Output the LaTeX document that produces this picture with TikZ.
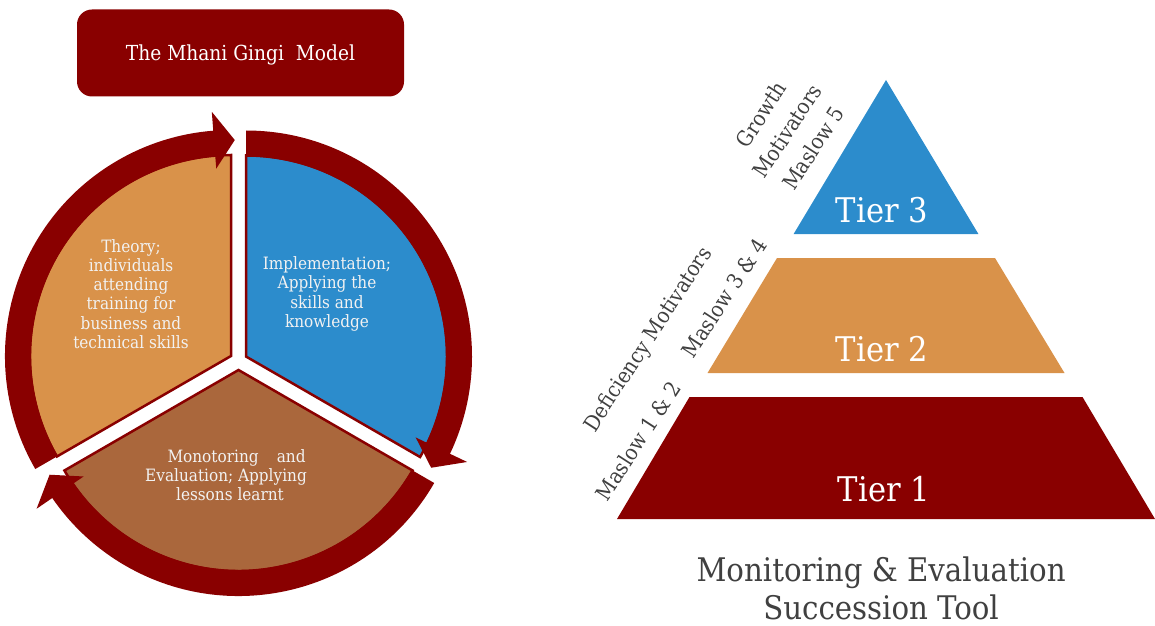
\documentclass[tikz,border=0pt]{standalone}
\usepackage{fontspec}
\setmainfont{DejaVu Serif Condensed}
\usepackage{tikz}
\usetikzlibrary{positioning, calc}
\definecolor{mgred}{RGB}{137,0,0}
\definecolor{mgorange}{RGB}{217,146,74}
\definecolor{mgblue}{RGB}{44,140,204}
\definecolor{mgbrown}{RGB}{170,103,60}
\definecolor{mggrey}{RGB}{64,64,64}
\tikzset{
	segtext/.style={text=white!95!black, align=center, font=\fontsize{17}{19.3}\selectfont},
	tiertext/.style={text=white, font=\fontsize{34}{40}\selectfont},
	sidetext/.style={text=mggrey, rotate=57, align=center, inner sep=0pt, font=\fontsize{21.5}{31}\selectfont},
}

\begin{document}
\begin{tikzpicture}[x=1pt, y=1pt]
		\useasboundingbox (0,0) rectangle (1155,625);
		\node[fill=mgred, rounded corners=15pt, minimum width=327pt, minimum height=87pt, text depth=0pt, text=white, font=\fontsize{20.7}{24}\selectfont] (title) at (240.5,572) {The~Mhani~Gingi~~Model};
		% three segments: apex x / apex y / start angle / colour
		\foreach \ax/\ay/\s/\col in {231/269/210/mgorange, 246/268.5/90/mgblue, 238.5/255/330/mgbrown}{
			\pgfmathsetmacro{\e}{\s-120}
			\pgfmathsetmacro{\b}{\e+4.5}
			\pgfmathsetmacro{\t}{\e-1}
			\filldraw[fill=\col, draw=mgred, line width=2.5pt] (\ax,\ay) -- ($(\ax,\ay)+(\s:201)$) arc[start angle=\s, end angle=\e, radius=201] -- cycle;
			\fill[mgred] ($(\ax,\ay)+(\s:226)$) arc[start angle=\s, end angle=\b, radius=226]
				-- ($(\ax,\ay)+(\b:245)$) -- ($(\ax,\ay)+(\t:216)$) -- ($(\ax,\ay)+(\b:188)$)
				-- ($(\ax,\ay)+(\b:200)$) arc[start angle=\b, end angle=\s, radius=200] -- cycle;
		}
		\node[segtext] (theory) at (131,331) {Theory;\\individuals\\attending\\training for\\business and\\technical skills};
		\node[segtext] (implement) at (327,331) {Implementation;\\Applying the\\skills and\\knowledge};
		\node[segtext] (monitor) at (226,150) {\hbox to 159pt{\hspace{21pt}Monotoring\hfill and}\\Evaluation; Applying\\\hspace*{8pt}lessons learnt};
		% pyramid
		\fill[mgblue] (886,545) -- (978.4,391) -- (793.6,391) -- cycle;
		\fill[mgorange] (777,367) -- (995,367) -- (1064.5,252) -- (707.5,252) -- cycle;
		\fill[mgred] (689.5,228) -- (1082.5,228) -- (1155,106) -- (617,106) -- cycle;
		\node[tiertext] (tier3) at (882,415) {Tier 3};
		\node[tiertext] (tier2) at (882,276) {Tier 2};
		\node[tiertext] (tier1) at (884,136) {Tier 1};
		\node[sidetext] (growth) at (787,494) {Growth\\Motivators\\Maslow 5};
		\node[sidetext] (deficiency) at (649,285) {Deficiency Motivators};
		\node[sidetext] (maslow34) at (724,327) {Maslow 3 \& 4};
		\node[sidetext] (maslow12) at (638,184) {Maslow 1 \& 2};
		\node[text=mggrey, align=center, inner sep=0pt, font=\fontsize{32.5}{38}\selectfont] (tool) at (881,37) {Monitoring \& Evaluation\\Succession Tool};
	\end{tikzpicture}
\end{document}
